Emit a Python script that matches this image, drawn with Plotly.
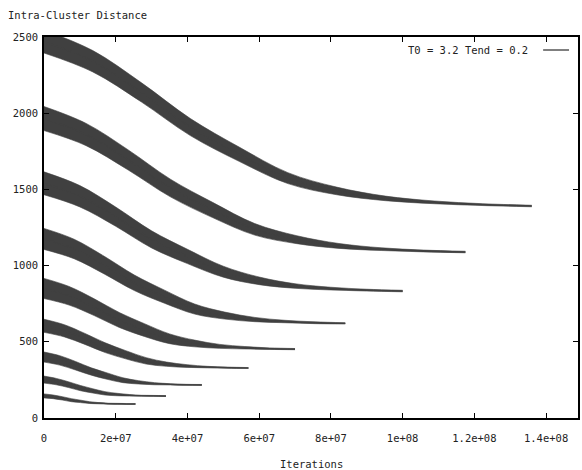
import plotly.graph_objects as go

# ---- data (x in iterations, y = intra-cluster distance) ----
# each run: x positions, band centre values, band half-widths (noise envelope)
x1 = [0, 13.6e6, 27.2e6, 40.8e6, 54.4e6, 68e6, 81.6e6, 95.2e6, 108.8e6, 122.4e6, 136e6]
c1 = [2470, 2341, 2136, 1909, 1731, 1574, 1490, 1441, 1415, 1400, 1391]
h1 = [75, 70, 63, 56, 47, 36, 25, 15, 9, 6, 5]

x2 = [0, 11.75e6, 23.5e6, 35.25e6, 47e6, 58.75e6, 70.5e6, 82.25e6, 94e6, 105.75e6, 117.5e6]
c2 = [1965, 1860, 1693, 1509, 1365, 1238, 1170, 1129, 1108, 1096, 1089]
h2 = [79, 73, 66, 58, 50, 38, 26, 16, 9, 6, 5]

x3 = [0, 10e6, 20e6, 30e6, 40e6, 50e6, 60e6, 70e6, 80e6, 90e6, 100e6]
c3 = [1540, 1455, 1321, 1172, 1060, 960, 900, 866, 849, 839, 833]
h3 = [75, 70, 63, 56, 47, 36, 25, 15, 9, 6, 5]

x4 = [0, 8.4e6, 16.8e6, 25.2e6, 33.6e6, 42e6, 50.4e6, 58.8e6, 67.2e6, 75.6e6, 84e6]
c4 = [1175, 1109, 1003, 887, 796, 715, 672, 646, 633, 625, 621]
h4 = [69, 64, 58, 51, 43, 33, 23, 14, 8, 6, 4]

x5 = [0, 7e6, 14e6, 21e6, 28e6, 35e6, 42e6, 49e6, 56e6, 63e6, 70e6]
c5 = [850, 802, 727, 643, 577, 520, 489, 470, 461, 455, 452]
h5 = [66, 61, 55, 49, 42, 32, 22, 13, 8, 5, 4]

x6 = [0, 5.7e6, 11.4e6, 17.1e6, 22.8e6, 28.5e6, 34.2e6, 39.9e6, 45.6e6, 51.3e6, 57e6]
c6 = [605, 572, 519, 461, 415, 375, 353, 341, 334, 330, 328]
h6 = [43, 40, 36, 32, 27, 21, 14, 9, 5, 4, 3]

x7 = [0, 4.4e6, 8.8e6, 13.2e6, 17.6e6, 22e6, 26.4e6, 30.8e6, 35.2e6, 39.6e6, 44e6]
c7 = [400, 378, 343, 305, 275, 248, 234, 225, 221, 218, 217]
h7 = [33, 31, 28, 24, 21, 16, 11, 7, 4, 3, 3]

x8 = [0, 3.4e6, 6.8e6, 10.2e6, 13.6e6, 17e6, 20.4e6, 23.8e6, 27.2e6, 30.6e6, 34e6]
c8 = [252, 239, 219, 196, 178, 162, 154, 149, 146, 145, 144]
h8 = [23, 21, 19, 17, 14, 11, 8, 5, 3, 3, 3]

x9 = [0, 2.55e6, 5.1e6, 7.65e6, 10.2e6, 12.75e6, 15.3e6, 17.85e6, 20.4e6, 22.95e6, 25.5e6]
c9 = [145, 139, 129, 117, 109, 101, 97, 94, 93, 92, 92]
h9 = [13, 12, 11, 10, 8, 6, 4, 3, 3, 3, 3]

runs = [(x1, c1, h1), (x2, c2, h2), (x3, c3, h3), (x4, c4, h4), (x5, c5, h5),
        (x6, c6, h6), (x7, c7, h7), (x8, c8, h8), (x9, c9, h9)]

x_tickvals = [0, 2e7, 4e7, 6e7, 8e7, 1e8, 1.2e8, 1.4e8]
x_ticktext = ["0", "2e+07", "4e+07", "6e+07", "8e+07", "1e+08", "1.2e+08", "1.4e+08"]
y_tickvals = [0, 500, 1000, 1500, 2000, 2500]
y_ticktext = ["0", "500", "1000", "1500", "2000", "2500"]

legend_text = "T0 = 3.2 Tend = 0.2"
title_text = "Intra-Cluster Distance"
xlabel_text = "Iterations"

BAND = "#404040"
FONT = dict(family="DejaVu Sans Mono", size=10.5, color="#222222")

fig = go.Figure()
for xs, cs, hs in runs:
    lo = [c - h for c, h in zip(cs, hs)]
    hi = [c + h for c, h in zip(cs, hs)]
    fig.add_trace(go.Scatter(x=xs, y=lo, mode="lines", line=dict(width=0.6, shape="spline", color=BAND),
                             showlegend=False, hoverinfo="skip"))
    fig.add_trace(go.Scatter(x=xs, y=hi, mode="lines", fill="tonexty", fillcolor=BAND,
                             line=dict(width=0.6, shape="spline", color=BAND),
                             showlegend=False, hoverinfo="skip"))
    fig.add_trace(go.Scatter(x=xs, y=cs, mode="lines", line=dict(width=1.2, shape="spline", color=BAND),
                             showlegend=False))

axis_common = dict(showline=True, linecolor="black", linewidth=1.6, mirror="ticks",
                   ticks="inside", ticklen=5, tickcolor="black", tickwidth=1.2,
                   showgrid=False, zeroline=False, tickfont=FONT)

fig.update_xaxes(range=[0, 1.489e8], tickvals=x_tickvals, ticktext=x_ticktext,
                 ticklabelstandoff=10, **axis_common)
fig.update_yaxes(range=[0, 2500], tickvals=y_tickvals, ticktext=y_ticktext,
                 ticklabelstandoff=2, **axis_common)

fig.update_layout(
    width=582, height=470,
    margin=dict(l=44, r=2, t=37, b=52),
    paper_bgcolor="white", plot_bgcolor="white",
    showlegend=False,
    title=dict(text=title_text, x=8 / 582, xanchor="left", xref="container",
               y=1 - 15 / 470, yanchor="middle", yref="container", font=FONT),
    annotations=[
        dict(text=xlabel_text, xref="paper", yref="paper", x=0.5, y=(418 - 464) / 381,
             xanchor="center", yanchor="middle", showarrow=False, font=FONT),
        dict(text=legend_text, xref="paper", yref="paper", x=(532 - 44) / 536, y=1 - (50 - 37) / 381,
             xanchor="right", yanchor="middle", showarrow=False, font=FONT),
    ],
    shapes=[
        dict(type="line", xref="paper", yref="paper", x0=(545 - 44) / 536, x1=(571 - 44) / 536,
             y0=1 - (50 - 37) / 381, y1=1 - (50 - 37) / 381, line=dict(color="black", width=1)),
    ],
)

fig.write_html("out.html")
